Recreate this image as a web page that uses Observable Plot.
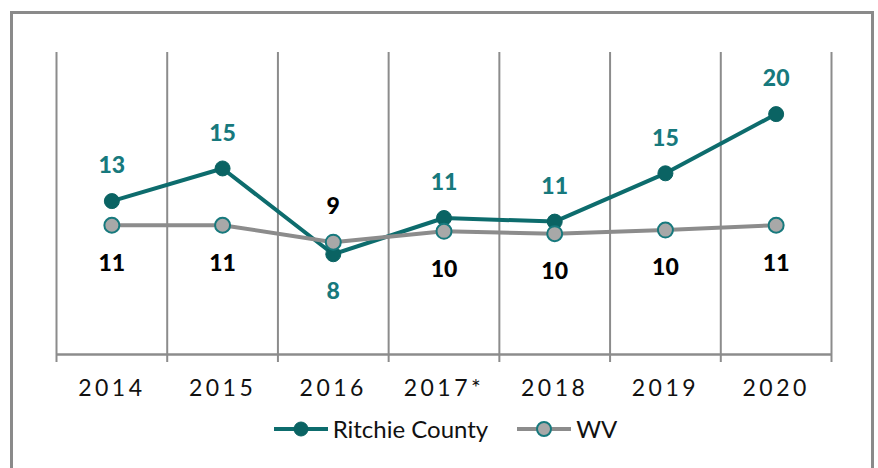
<!DOCTYPE html>
<html>
<head>
<meta charset="utf-8">
<script src="https://cdn.jsdelivr.net/npm/d3@7"></script>
<script src="https://cdn.jsdelivr.net/npm/@observablehq/plot@0.6"></script>
<style>
  html, body { margin: 0; padding: 0; background: #fff; overflow: hidden; }
  body { width: 878px; height: 468px; position: relative; font-family: Lato, "Open Sans", sans-serif; }
  #frame { position: absolute; left: 10px; top: 11px; width: 864px; height: 520px; box-sizing: border-box; border: 3px solid #8a8a8a; }
  #chart { position: absolute; left: 0; top: 0; }
  #chart g[aria-label="x-axis tick label"] text { letter-spacing: 3.5px; }
  #legend { position: absolute; left: 0; top: 414px; width: 878px; display: flex; justify-content: center; align-items: center; font-size: 24px; color: #111; padding-left: 12px; box-sizing: border-box; }
  .item { display: flex; align-items: center; }
  .item svg { margin-right: 4px; }
</style>
</head>
<body>
<div id="frame"></div>
<div id="chart"></div>
<div id="legend"></div>
<script>
const years = ["2014", "2015", "2016", "2017*", "2018", "2019", "2020"];
const ritchie = [12.7, 15.4, 8.3, 11.3, 11.0, 15.0, 19.9];
const wv = [10.7, 10.7, 9.3, 10.2, 10.0, 10.3, 10.7];
const seriesNames = ["Ritchie County", "WV"];

const teal = "#0d6c6d";
const tealDot = "#0a6363";
const tealText = "#17797d";
const grayLine = "#8c8c8c";
const grayFill = "#a8a8a8";
const gridColor = "#8c8c8c";

const rData = years.map((y, i) => ({i, v: ritchie[i], above: ritchie[i] >= wv[i]}));
const wData = years.map((y, i) => ({i, v: wv[i], above: wv[i] > ritchie[i]}));
const bounds = d3.range(years.length + 1).map(k => k - 0.5);

const chart = Plot.plot({
  width: 878,
  height: 408,
  marginTop: 52,
  marginBottom: 54,
  marginLeft: 56,
  marginRight: 47,
  style: {fontFamily: "Lato, 'Open Sans', sans-serif", background: "transparent"},
  x: {type: "linear", domain: [-0.5, years.length - 0.5], label: null},
  y: {domain: [0, 25], axis: null},
  marks: [
    Plot.ruleX(bounds, {x: d => d, y1: 0, y2: 25, stroke: gridColor, strokeWidth: 2}),
    Plot.ruleY([0], {stroke: gridColor, strokeWidth: 2.5}),
    Plot.axisX({ticks: bounds, tickSize: 8, tickFormat: () => "", stroke: gridColor, strokeWidth: 2, label: null}),
    Plot.axisX({ticks: d3.range(years.length), tickSize: 0, tickPadding: 25, tickFormat: i => years[i], fontSize: 23, fill: "#111", label: null}),
    Plot.line(rData, {x: "i", y: "v", stroke: teal, strokeWidth: 4}),
    Plot.dot(rData, {x: "i", y: "v", r: 7.5, fill: tealDot, stroke: tealDot, strokeWidth: 1}),
    Plot.line(wData, {x: "i", y: "v", stroke: grayLine, strokeWidth: 4}),
    Plot.dot(wData, {x: "i", y: "v", r: 7.5, fill: grayFill, stroke: tealText, strokeWidth: 2}),
    Plot.text(rData.filter(d => d.above), {x: "i", y: "v", text: d => Math.round(d.v), dy: -35, fill: tealText, fontSize: 23, fontWeight: "900"}),
    Plot.text(rData.filter(d => !d.above), {x: "i", y: "v", text: d => Math.round(d.v), dy: 37, fill: tealText, fontSize: 23, fontWeight: "900"}),
    Plot.text(wData.filter(d => d.above), {x: "i", y: "v", text: d => Math.round(d.v), dy: -36, fill: "#000", fontSize: 23, fontWeight: "900"}),
    Plot.text(wData.filter(d => !d.above), {x: "i", y: "v", text: d => Math.round(d.v), dy: 38, fill: "#000", fontSize: 23, fontWeight: "900"})
  ]
});
document.getElementById("chart").appendChild(chart);

const legend = document.getElementById("legend");
const swatches = [
  {line: teal, fill: tealDot, stroke: tealDot, sw: 1},
  {line: grayLine, fill: grayFill, stroke: tealText, sw: 2}
];
seriesNames.forEach((name, k) => {
  const s = swatches[k];
  const item = document.createElement("div");
  item.className = "item";
  if (k > 0) item.style.marginLeft = "28px";
  item.innerHTML = `<svg width="56" height="20"><line x1="1" x2="55" y1="10" y2="10" stroke="${s.line}" stroke-width="4"/><circle cx="28" cy="10" r="7" fill="${s.fill}" stroke="${s.stroke}" stroke-width="${s.sw}"/></svg><span>${name}</span>`;
  legend.appendChild(item);
});
</script>
</body>
</html>
